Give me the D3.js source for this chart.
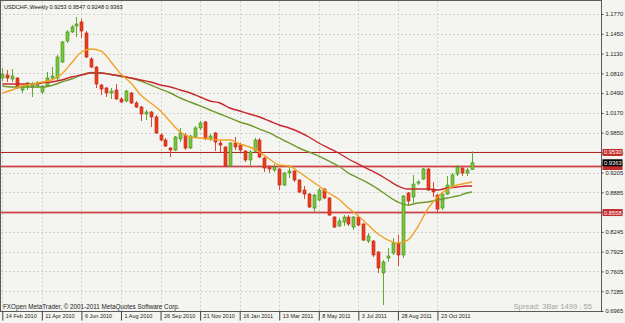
<!DOCTYPE html>
<html>
<head>
<meta charset="utf-8">
<script src="https://cdn.jsdelivr.net/npm/d3@7"></script>
<style>
  body { margin: 0; background: #f4f4f0; }
  svg { display: block; font-family: "Liberation Sans", Arial, sans-serif; }
</style>
</head>
<body>
<div class="chart"></div>
<script>
// USDCHF weekly bars, first bar = week of 14 Feb 2010
var firstWeek = "2010-02-14";
var lastWeek = "2011-12-11";

var opens = [1.0734, 1.0783, 1.0718, 1.0734, 1.0540, 1.0589, 1.0589, 1.0605, 1.0508, 1.0605,
  1.0734, 1.0734, 1.0993, 1.1333, 1.1479, 1.1576, 1.1641, 1.1463, 1.1042, 1.0912,
  1.0621, 1.0573, 1.0492, 1.0540, 1.0395, 1.0362, 1.0492, 1.0330, 1.0265, 1.0152,
  1.0184, 1.0104, 0.9812, 0.9731, 0.9602, 0.9569, 0.9748, 0.9812, 0.9602, 0.9780,
  0.9926, 1.0023, 0.9748, 0.9845, 0.9683, 0.9618, 0.9311, 0.9683, 0.9650, 0.9553,
  0.9408, 0.9553, 0.9731, 0.9440, 0.9294, 0.9246, 0.9262, 0.9003, 0.9197, 0.9230,
  0.9084, 0.8922, 0.8857, 0.8631, 0.8760, 0.8938, 0.8793, 0.8485, 0.8340, 0.8404,
  0.8485, 0.8323, 0.8485, 0.8372, 0.8097, 0.8097, 0.7919, 0.7580, 0.7822, 0.7903,
  0.8065, 0.7871, 0.8874, 0.8809, 0.9035, 0.9100, 0.9262, 0.8938, 0.8841, 0.8631,
  0.8857, 0.8971, 0.9181, 0.9278, 0.9197, 0.9253];
var highs = [1.0896, 1.0864, 1.0880, 1.0751, 1.0621, 1.0670, 1.0670, 1.0686, 1.0621, 1.0832,
  1.0912, 1.1107, 1.1333, 1.1511, 1.1592, 1.1721, 1.1689, 1.1495, 1.1074, 1.0929,
  1.0637, 1.0589, 1.0573, 1.0637, 1.0427, 1.0540, 1.0508, 1.0362, 1.0282, 1.0217,
  1.0201, 1.0136, 0.9845, 0.9764, 0.9618, 0.9796, 0.9926, 0.9845, 0.9812, 0.9958,
  1.0039, 1.0039, 0.9829, 0.9861, 0.9731, 0.9634, 0.9699, 0.9780, 0.9683, 0.9569,
  0.9569, 0.9764, 0.9764, 0.9456, 0.9327, 0.9343, 0.9278, 0.9214, 0.9327, 0.9246,
  0.9100, 0.8987, 0.8874, 0.8857, 0.8954, 0.8954, 0.8809, 0.8501, 0.8469, 0.8517,
  0.8517, 0.8501, 0.8501, 0.8388, 0.8226, 0.8113, 0.7936, 0.7790, 0.7984, 0.8146,
  0.8194, 0.8841, 0.8890, 0.9165, 0.9084, 0.9278, 0.9278, 0.9052, 0.8857, 0.8874,
  0.9149, 0.9197, 0.9327, 0.9294, 0.9278, 0.9547];
var lows = [1.0686, 1.0670, 1.0670, 1.0556, 1.0492, 1.0540, 1.0427, 1.0573, 1.0476, 1.0589,
  1.0702, 1.0702, 1.0977, 1.1301, 1.1463, 1.1398, 1.1382, 1.1058, 1.0896, 1.0573,
  1.0459, 1.0427, 1.0395, 1.0379, 1.0330, 1.0346, 1.0314, 1.0249, 1.0039, 1.0055,
  0.9942, 0.9829, 0.9715, 0.9618, 0.9456, 0.9553, 0.9699, 0.9569, 0.9586, 0.9764,
  0.9893, 0.9731, 0.9715, 0.9553, 0.9537, 0.9294, 0.9294, 0.9569, 0.9537, 0.9375,
  0.9311, 0.9537, 0.9440, 0.9214, 0.9197, 0.9214, 0.8922, 0.8987, 0.9116, 0.9052,
  0.8874, 0.8776, 0.8631, 0.8566, 0.8744, 0.8776, 0.8501, 0.8307, 0.8323, 0.8340,
  0.8340, 0.8275, 0.8340, 0.8097, 0.8065, 0.7838, 0.7580, 0.7062, 0.7758, 0.7871,
  0.7693, 0.7822, 0.8663, 0.8712, 0.9003, 0.9084, 0.8906, 0.8809, 0.8550, 0.8598,
  0.8841, 0.8954, 0.9149, 0.9149, 0.9149, 0.9248];
var closes = [1.0799, 1.0734, 1.0767, 1.0573, 1.0605, 1.0654, 1.0621, 1.0654, 1.0605, 1.0734,
  1.0767, 1.1074, 1.1317, 1.1479, 1.1560, 1.1608, 1.1495, 1.1074, 1.0912, 1.0637,
  1.0556, 1.0492, 1.0524, 1.0395, 1.0346, 1.0524, 1.0330, 1.0265, 1.0152, 1.0184,
  1.0104, 0.9845, 0.9731, 0.9634, 0.9569, 0.9780, 0.9845, 0.9602, 0.9796, 0.9926,
  1.0007, 0.9748, 0.9796, 0.9699, 0.9650, 0.9311, 0.9683, 0.9618, 0.9569, 0.9408,
  0.9537, 0.9731, 0.9456, 0.9278, 0.9262, 0.9294, 0.9003, 0.9197, 0.9230, 0.9084,
  0.8890, 0.8857, 0.8647, 0.8841, 0.8922, 0.8793, 0.8517, 0.8323, 0.8421, 0.8485,
  0.8372, 0.8485, 0.8356, 0.8113, 0.8178, 0.7871, 0.7661, 0.7758, 0.7855, 0.8065,
  0.7871, 0.8825, 0.8744, 0.9019, 0.9052, 0.9262, 0.8922, 0.8890, 0.8614, 0.8857,
  0.9003, 0.9165, 0.9294, 0.9197, 0.9246, 0.9363];

// moving averages read every second bar
var maBars = [0, 2, 4, 6, 8, 10, 12, 14, 16, 18, 20, 22, 24, 26, 28, 30, 32, 34, 36, 38, 40, 42, 44, 46,
  48, 50, 52, 54, 56, 58, 60, 62, 64, 66, 68, 70, 72, 74, 76, 78, 80, 82, 84, 86, 88, 90, 92, 94, 95];
var maOrange = [1.0492, 1.0540, 1.0605, 1.0637, 1.0670, 1.0702, 1.0799, 1.0977, 1.1155, 1.1204,
  1.1171, 1.0993, 1.0799, 1.0654, 1.0459, 1.0330, 1.0201, 1.0023, 0.9861, 0.9780,
  0.9764, 0.9748, 0.9731, 0.9731, 0.9667, 0.9618, 0.9537, 0.9424, 0.9327, 0.9311,
  0.9214, 0.9100, 0.8987, 0.8874, 0.8776, 0.8631, 0.8501, 0.8356, 0.8210, 0.8113,
  0.8065, 0.8113, 0.8323, 0.8614, 0.8809, 0.8938, 0.9003, 0.9035, 0.9052];
var maGreen = [1.0605, 1.0589, 1.0589, 1.0589, 1.0589, 1.0613, 1.0670, 1.0718, 1.0783, 1.0823,
  1.0815, 1.0791, 1.0759, 1.0734, 1.0686, 1.0621, 1.0556, 1.0492, 1.0411, 1.0346,
  1.0282, 1.0217, 1.0152, 1.0088, 1.0023, 0.9974, 0.9909, 0.9845, 0.9764, 0.9683,
  0.9602, 0.9537, 0.9472, 0.9392, 0.9311, 0.9197, 0.9116, 0.9035, 0.8938, 0.8825,
  0.8728, 0.8679, 0.8712, 0.8728, 0.8760, 0.8793, 0.8825, 0.8874, 0.8890];
var maRed = [1.0637, 1.0637, 1.0637, 1.0637, 1.0654, 1.0670, 1.0702, 1.0751, 1.0783, 1.0815,
  1.0815, 1.0791, 1.0767, 1.0734, 1.0702, 1.0670, 1.0621, 1.0589, 1.0540, 1.0492,
  1.0427, 1.0362, 1.0330, 1.0249, 1.0201, 1.0152, 1.0104, 1.0039, 0.9974, 0.9926,
  0.9861, 0.9780, 0.9683, 0.9602, 0.9521, 0.9424, 0.9343, 0.9262, 0.9181, 0.9084,
  0.8987, 0.8938, 0.8938, 0.8938, 0.8922, 0.8954, 0.8971, 0.8987, 0.8987];

var priceTicks = [1.1770, 1.1450, 1.1130, 1.0810, 1.0490, 1.0170, 0.9850, 0.9530,
  0.9205, 0.8885, 0.8565, 0.8245, 0.7925, 0.7605, 0.7285, 0.6965];
var dateTicks = ["2010-02-14", "2010-04-11", "2010-06-06", "2010-08-01", "2010-09-26", "2010-11-21",
  "2011-01-16", "2011-03-13", "2011-05-08", "2011-07-03", "2011-08-28", "2011-10-23"];
var levels = [0.9530, 0.9303, 0.8558];
var lastPrice = 0.9363;

var svgWidth = 625;
var svgHeight = 323;
var plotRight = 601.5;
var plotBottom = 311.5;

var svg = d3.select(".chart")
  .append("svg")
  .attr("width", svgWidth)
  .attr("height", svgHeight);

svg.append("rect")
  .attr("width", svgWidth)
  .attr("height", svgHeight)
  .attr("fill", "#f4f4f0");

// scales
var start = new Date(firstWeek);
var xScale = d3.scaleUtc()
  .domain([start, new Date(lastWeek)])
  .range([2.3, 472.1]);
var yScale = d3.scaleLinear()
  .domain([0.6965, 1.1770])
  .range([311, 14]);

var bars = opens.map(function (o, i) {
  return { date: d3.utcWeek.offset(start, i), o: o, h: highs[i], l: lows[i], c: closes[i] };
});

// grid
var grid = svg.append("g").attr("stroke", "#d2d2ca").attr("stroke-dasharray", "2,2");
grid.selectAll("line.h")
  .data(priceTicks)
  .enter()
  .append("line")
  .attr("x1", 1).attr("x2", plotRight)
  .attr("y1", d => Math.round(yScale(d)) + 0.5)
  .attr("y2", d => Math.round(yScale(d)) + 0.5);
grid.selectAll("line.v")
  .data(dateTicks)
  .enter()
  .append("line")
  .attr("x1", d => Math.round(xScale(new Date(d))) + 0.5)
  .attr("x2", d => Math.round(xScale(new Date(d))) + 0.5)
  .attr("y1", 1).attr("y2", plotBottom);

// horizontal level lines
svg.selectAll("line.level")
  .data(levels)
  .enter()
  .append("line")
  .attr("x1", 1).attr("x2", plotRight)
  .attr("y1", d => yScale(d)).attr("y2", d => yScale(d))
  .attr("stroke", (d, i) => i == 0 ? "#b01c1c" : "#e39a9a")
  .attr("stroke-width", (d, i) => i == 0 ? 1 : 2.6);
svg.selectAll("line.levelcore")
  .data(levels.slice(1))
  .enter()
  .append("line")
  .attr("x1", 1).attr("x2", plotRight)
  .attr("y1", d => yScale(d)).attr("y2", d => yScale(d))
  .attr("stroke", "#c84444")
  .attr("stroke-width", 1);

// candles
var candles = svg.append("g");
candles.selectAll("line")
  .data(bars)
  .enter()
  .append("line")
  .attr("x1", d => Math.round(xScale(d.date)) + 0.5)
  .attr("x2", d => Math.round(xScale(d.date)) + 0.5)
  .attr("y1", d => yScale(d.h))
  .attr("y2", d => yScale(d.l))
  .attr("stroke", d => d.c >= d.o ? "#5aac2c" : "#dc4a3a");
candles.selectAll("rect")
  .data(bars)
  .enter()
  .append("rect")
  .attr("x", d => Math.round(xScale(d.date)) - 1)
  .attr("width", 3)
  .attr("y", d => yScale(Math.max(d.o, d.c)))
  .attr("height", d => Math.max(1, Math.abs(yScale(d.o) - yScale(d.c))))
  .attr("fill", d => d.c >= d.o ? "#7cc63c" : "#ee3c1a")
  .attr("stroke", d => d.c >= d.o ? "#3e8e1c" : "#b8281a")
  .attr("stroke-width", 0.6);

// moving averages
var maLine = d3.line()
  .x(d => xScale(d3.utcWeek.offset(start, d[0])))
  .y(d => yScale(d[1]))
  .curve(d3.curveMonotoneX);
[[maGreen, "#6f9a2c"], [maRed, "#c8282e"], [maOrange, "#f0a224"]].forEach(function (s) {
  svg.append("path")
    .attr("d", maLine(maBars.map((b, i) => [b, s[0][i]])))
    .attr("fill", "none")
    .attr("stroke", s[1])
    .attr("stroke-width", 1.4);
});

// frame
svg.append("rect")
  .attr("x", 0.5).attr("y", 0.5)
  .attr("width", plotRight - 0.5).attr("height", plotBottom - 0.5)
  .attr("fill", "none")
  .attr("stroke", "#5a5a5a");

// price axis
var rightAxis = d3.axisRight(yScale)
  .tickValues(priceTicks)
  .tickSize(2)
  .tickPadding(2)
  .tickFormat(d3.format(".4f"));
var ya = svg.append("g")
  .attr("transform", `translate(${plotRight}, 0)`)
  .call(rightAxis);
ya.select(".domain").remove();
ya.selectAll("text").attr("font-size", 5.8).attr("fill", "#222").attr("font-family", null);
ya.selectAll("line").attr("stroke", "#444");

// date axis
var bottomAxis = d3.axisBottom(xScale)
  .tickValues(dateTicks.map(d => new Date(d)))
  .tickSize(9)
  .tickFormat(d3.utcFormat("%-d %b %Y"));
var xa = svg.append("g")
  .attr("transform", `translate(0, ${plotBottom})`)
  .call(bottomAxis);
xa.select(".domain").remove();
xa.selectAll("line").attr("stroke", "#444");
xa.selectAll("text")
  .attr("text-anchor", "start")
  .attr("x", 3).attr("y", 3).attr("dy", "0.71em")
  .attr("font-size", 5.5).attr("fill", "#222").attr("font-family", null);

// level labels (the middle one sits under the bid label)
function priceBox(value, fill, withText) {
  var yy = yScale(value);
  svg.append("rect")
    .attr("x", 602.5).attr("y", yy - 3.5)
    .attr("width", 20).attr("height", 7)
    .attr("fill", fill);
  if (withText) {
    svg.append("text")
      .attr("x", 604).attr("y", yy + 2)
      .attr("font-size", 5.8)
      .attr("fill", "#fff")
      .text(d3.format(".4f")(value));
  }
}
priceBox(levels[2], "#c42a2a", true);
priceBox(levels[1], "#c42a2a", false);
priceBox(levels[0], "#c42a2a", true);
priceBox(lastPrice, "#000", true);

// captions
svg.append("text")
  .attr("x", 4).attr("y", 9)
  .attr("font-size", 5.6).attr("fill", "#111")
  .text("USDCHF.,Weekly  " + [opens[95], highs[95], lows[95], closes[95]].map(d3.format(".4f")).join(" "));
svg.append("text")
  .attr("x", 3).attr("y", 308.5)
  .attr("font-size", 6.3).attr("fill", "#222")
  .text("FXOpen MetaTrader, © 2001-2011 MetaQuotes Software Corp.");
svg.append("text")
  .attr("x", 592).attr("y", 309)
  .attr("text-anchor", "end")
  .attr("font-size", 7.6).attr("fill", "#a4a4a4")
  .text("Spread: 3Bar  1499 : 55");
</script>
</body>
</html>
